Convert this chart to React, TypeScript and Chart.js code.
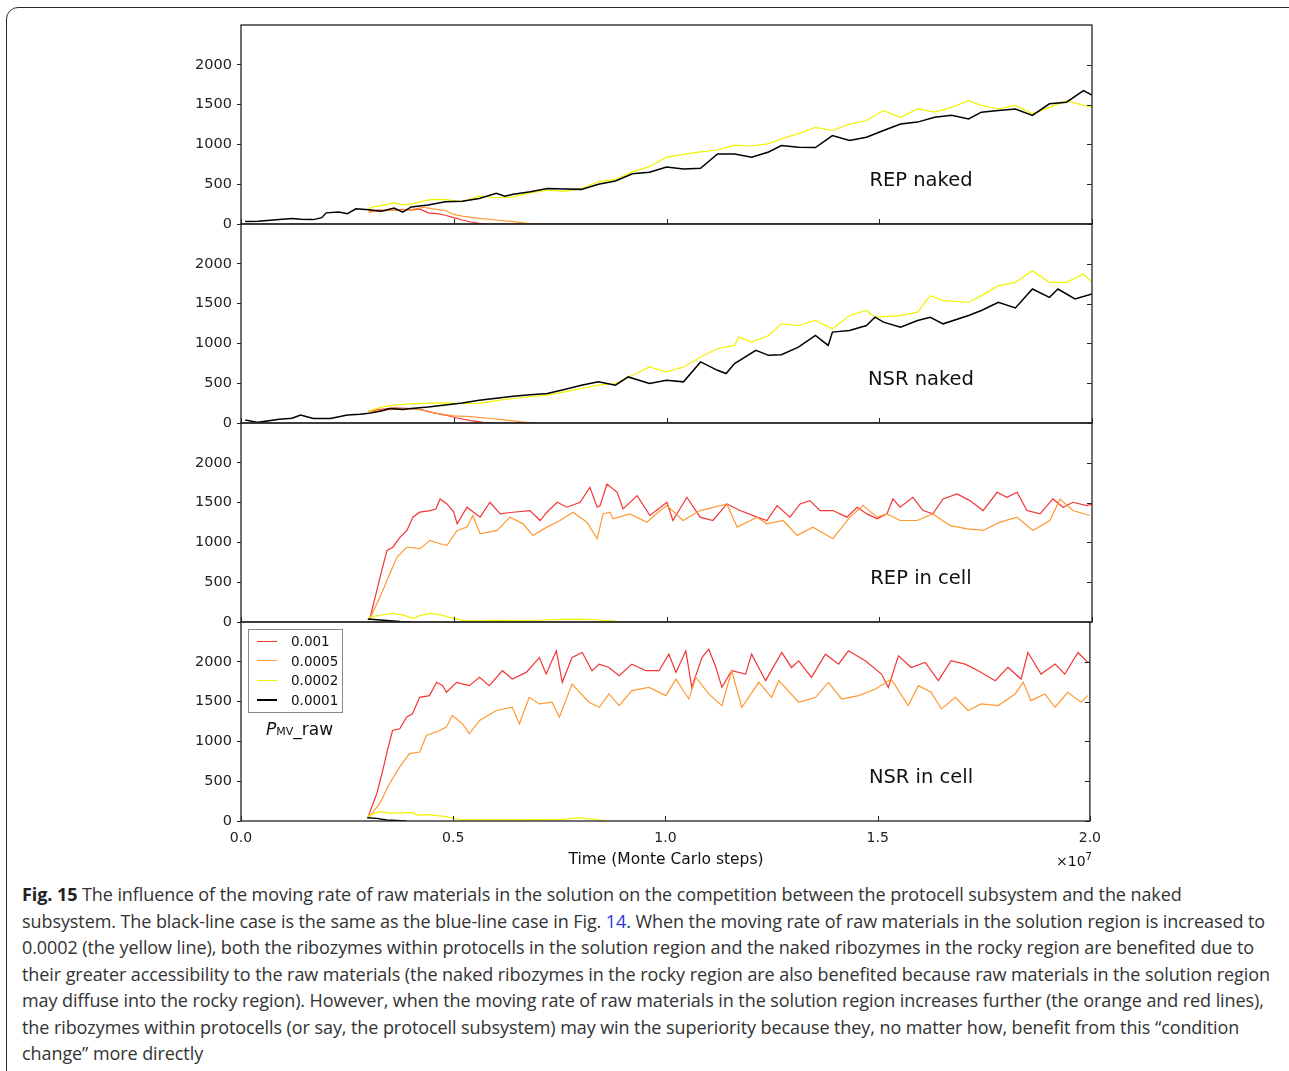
import React, { useEffect, useRef } from "react";
import { Chart, registerables } from "chart.js";

Chart.register(...registerables);

// ---------- axis ticks / labels ----------
const X_TICKS = [0, 0.5, 1.0, 1.5, 2.0]; // in units of 1e7 Monte Carlo steps
const Y_TICKS = [0, 500, 1000, 1500, 2000];
const LEGEND_LABELS = ["0.001", "0.0005", "0.0002", "0.0001"];
const PANEL_LABELS = ["REP naked", "NSR naked", "REP in cell", "NSR in cell"];

// ---------- Panel 1: REP naked ----------
const repNakedBlackT = [0.01, 0.04, 0.09, 0.12, 0.14, 0.17, 0.19, 0.2, 0.23, 0.25, 0.27, 0.3, 0.33, 0.36, 0.38, 0.4, 0.44, 0.48, 0.52, 0.56, 0.6, 0.62, 0.64, 0.68, 0.72, 0.76, 0.8, 0.84, 0.88, 0.92, 0.96, 1.0, 1.04, 1.08, 1.12, 1.16, 1.2, 1.24, 1.27, 1.31, 1.35, 1.39, 1.43, 1.47, 1.51, 1.55, 1.59, 1.63, 1.67, 1.71, 1.74, 1.78, 1.82, 1.86, 1.9, 1.94, 1.98, 2.0];
const repNakedBlackV = [30, 35, 55, 70, 60, 55, 80, 140, 150, 130, 190, 180, 160, 200, 150, 215, 240, 280, 285, 320, 385, 350, 375, 405, 445, 440, 435, 500, 540, 630, 650, 715, 690, 700, 880, 880, 840, 905, 985, 965, 960, 1110, 1050, 1090, 1175, 1255, 1280, 1340, 1365, 1320, 1405, 1425, 1445, 1365, 1510, 1530, 1675, 1620];
const repNakedYellowT = [0.3, 0.31, 0.33, 0.36, 0.38, 0.4, 0.43, 0.45, 0.48, 0.52, 0.56, 0.6, 0.64, 0.68, 0.72, 0.76, 0.8, 0.84, 0.88, 0.92, 0.96, 1.0, 1.04, 1.08, 1.12, 1.16, 1.2, 1.24, 1.27, 1.31, 1.35, 1.39, 1.43, 1.47, 1.51, 1.55, 1.59, 1.63, 1.67, 1.71, 1.74, 1.78, 1.82, 1.86, 1.9, 1.94, 1.98, 2.0];
const repNakedYellowV = [190, 215, 230, 265, 240, 250, 290, 310, 305, 280, 350, 330, 340, 390, 425, 410, 445, 530, 560, 655, 720, 840, 875, 905, 930, 990, 980, 1010, 1070, 1135, 1215, 1175, 1255, 1300, 1425, 1340, 1445, 1405, 1465, 1550, 1490, 1445, 1490, 1385, 1465, 1550, 1490, 1470];
const repNakedOrangeT = [0.3, 0.33, 0.36, 0.4, 0.43, 0.45, 0.48, 0.5, 0.52, 0.56, 0.6, 0.64, 0.67, 0.69, 2.0];
const repNakedOrangeV = [150, 165, 175, 180, 210, 190, 170, 120, 100, 70, 50, 30, 10, 0, 0];
const repNakedRedT = [0.3, 0.32, 0.35, 0.38, 0.4, 0.42, 0.44, 0.46, 0.48, 0.5, 0.52, 0.54, 0.56, 0.58, 2.0];
const repNakedRedV = [160, 175, 170, 185, 175, 190, 140, 130, 110, 80, 50, 25, 8, 0, 0];

// ---------- Panel 2: NSR naked ----------
const nsrNakedBlackT = [0.01, 0.04, 0.09, 0.12, 0.14, 0.17, 0.21, 0.25, 0.28, 0.3, 0.33, 0.35, 0.38, 0.4, 0.44, 0.48, 0.52, 0.56, 0.6, 0.64, 0.68, 0.72, 0.76, 0.8, 0.84, 0.88, 0.91, 0.96, 1.0, 1.04, 1.08, 1.12, 1.14, 1.16, 1.21, 1.24, 1.27, 1.31, 1.35, 1.38, 1.39, 1.43, 1.47, 1.49, 1.51, 1.55, 1.59, 1.62, 1.65, 1.71, 1.74, 1.78, 1.82, 1.86, 1.9, 1.92, 1.96, 2.0];
const nsrNakedBlackV = [37, 8, 46, 60, 100, 58, 58, 100, 110, 121, 150, 183, 170, 183, 200, 225, 250, 287, 310, 337, 355, 371, 420, 475, 517, 475, 579, 496, 537, 517, 767, 662, 621, 746, 912, 850, 858, 954, 1100, 975, 1142, 1163, 1225, 1329, 1267, 1204, 1288, 1329, 1246, 1350, 1413, 1517, 1446, 1683, 1579, 1683, 1558, 1621];
const nsrNakedYellowT = [0.3, 0.33, 0.36, 0.4, 0.44, 0.48, 0.52, 0.56, 0.6, 0.64, 0.68, 0.72, 0.76, 0.8, 0.84, 0.88, 0.92, 0.96, 1.0, 1.04, 1.08, 1.12, 1.16, 1.17, 1.2, 1.24, 1.27, 1.31, 1.35, 1.39, 1.43, 1.47, 1.49, 1.55, 1.59, 1.62, 1.65, 1.71, 1.74, 1.78, 1.82, 1.86, 1.9, 1.94, 1.98, 2.0];
const nsrNakedYellowV = [150, 200, 225, 240, 250, 254, 245, 246, 280, 308, 330, 350, 390, 433, 475, 496, 600, 704, 642, 704, 829, 933, 975, 1079, 1017, 1100, 1246, 1225, 1288, 1183, 1350, 1413, 1329, 1350, 1392, 1600, 1538, 1517, 1600, 1725, 1767, 1913, 1767, 1767, 1871, 1767];
const nsrNakedOrangeT = [0.3, 0.33, 0.36, 0.4, 0.43, 0.46, 0.5, 0.54, 0.58, 0.62, 0.66, 0.69, 2.0];
const nsrNakedOrangeV = [140, 160, 170, 180, 160, 120, 90, 80, 60, 40, 15, 0, 0];
const nsrNakedRedT = [0.3, 0.33, 0.36, 0.4, 0.42, 0.45, 0.48, 0.51, 0.54, 0.57, 0.59, 2.0];
const nsrNakedRedV = [150, 170, 190, 180, 170, 130, 100, 60, 30, 8, 0, 0];

// ---------- Panel 3: REP in cell ----------
const repCellRedT = [0.3, 0.303, 0.327, 0.343, 0.357, 0.374, 0.39, 0.404, 0.42, 0.444, 0.458, 0.468, 0.484, 0.5, 0.508, 0.531, 0.562, 0.585, 0.609, 0.639, 0.679, 0.703, 0.719, 0.743, 0.766, 0.797, 0.82, 0.837, 0.844, 0.86, 0.884, 0.898, 0.931, 0.961, 1.001, 1.015, 1.048, 1.079, 1.109, 1.142, 1.173, 1.213, 1.236, 1.26, 1.29, 1.314, 1.337, 1.361, 1.391, 1.424, 1.448, 1.471, 1.495, 1.518, 1.532, 1.549, 1.579, 1.603, 1.626, 1.65, 1.683, 1.713, 1.744, 1.777, 1.8, 1.824, 1.847, 1.878, 1.908, 1.932, 1.955, 1.988, 2.0];
const repCellRedV = [30, 46, 567, 900, 940, 1067, 1150, 1317, 1380, 1400, 1420, 1546, 1483, 1380, 1233, 1442, 1317, 1504, 1358, 1379, 1400, 1275, 1379, 1504, 1442, 1504, 1692, 1442, 1463, 1733, 1629, 1421, 1588, 1338, 1504, 1275, 1567, 1317, 1275, 1483, 1400, 1317, 1275, 1463, 1317, 1483, 1525, 1400, 1400, 1317, 1442, 1358, 1296, 1358, 1546, 1442, 1567, 1400, 1358, 1546, 1608, 1525, 1400, 1629, 1567, 1629, 1400, 1358, 1546, 1442, 1504, 1463, 1480];
const repCellOrangeT = [0.3, 0.303, 0.327, 0.35, 0.367, 0.39, 0.421, 0.444, 0.468, 0.484, 0.508, 0.531, 0.545, 0.562, 0.602, 0.632, 0.663, 0.686, 0.719, 0.75, 0.78, 0.813, 0.837, 0.851, 0.867, 0.874, 0.914, 0.954, 0.985, 1.001, 1.039, 1.079, 1.142, 1.166, 1.213, 1.236, 1.274, 1.307, 1.344, 1.391, 1.431, 1.462, 1.495, 1.518, 1.549, 1.589, 1.626, 1.666, 1.706, 1.744, 1.784, 1.824, 1.861, 1.901, 1.925, 1.955, 1.995];
const repCellOrangeV = [30, 46, 317, 608, 817, 942, 921, 1025, 983, 962, 1150, 1192, 1338, 1108, 1150, 1317, 1233, 1088, 1192, 1275, 1379, 1254, 1046, 1358, 1379, 1296, 1358, 1254, 1400, 1463, 1275, 1400, 1483, 1192, 1317, 1233, 1275, 1088, 1192, 1046, 1317, 1463, 1317, 1358, 1275, 1275, 1358, 1213, 1171, 1150, 1254, 1317, 1150, 1275, 1546, 1400, 1338];
const repCellYellowT = [0.3, 0.31, 0.33, 0.357, 0.38, 0.404, 0.42, 0.444, 0.47, 0.484, 0.5, 0.522, 0.56, 0.6, 0.64, 0.7, 0.757, 0.8, 0.837, 0.874, 0.884];
const repCellYellowV = [50, 67, 88, 108, 90, 46, 80, 108, 90, 67, 45, 20, 15, 20, 18, 22, 33, 35, 25, 15, 0];
const repCellBlackT = [0.298, 0.327, 0.35, 0.374, 0.4];
const repCellBlackV = [37, 25, 17, 5, 0];

// ---------- Panel 4: NSR in cell ----------
const nsrCellRedT = [0.298, 0.32, 0.334, 0.345, 0.357, 0.374, 0.39, 0.404, 0.421, 0.444, 0.461, 0.475, 0.484, 0.508, 0.538, 0.562, 0.585, 0.616, 0.639, 0.672, 0.703, 0.719, 0.743, 0.757, 0.78, 0.804, 0.827, 0.844, 0.867, 0.891, 0.921, 0.954, 0.985, 1.008, 1.025, 1.048, 1.062, 1.086, 1.102, 1.119, 1.133, 1.156, 1.189, 1.203, 1.236, 1.274, 1.297, 1.314, 1.344, 1.377, 1.408, 1.431, 1.471, 1.509, 1.525, 1.549, 1.579, 1.612, 1.643, 1.673, 1.706, 1.737, 1.777, 1.807, 1.838, 1.854, 1.885, 1.918, 1.941, 1.972, 1.995, 2.0];
const nsrCellRedV = [33, 346, 637, 887, 1137, 1158, 1304, 1346, 1554, 1575, 1742, 1700, 1617, 1742, 1700, 1804, 1700, 1888, 1783, 1867, 2054, 1846, 2138, 1742, 2054, 2117, 1888, 1971, 1929, 1825, 1971, 1888, 1888, 2096, 1867, 2138, 1679, 2054, 2158, 1929, 1679, 1888, 1846, 2096, 1763, 2117, 1929, 2013, 1804, 2096, 1971, 2138, 2013, 1846, 1679, 2075, 1929, 1992, 1763, 2013, 1971, 1888, 1763, 1929, 1783, 2117, 1846, 1971, 1846, 2117, 1992, 2000];
const nsrCellOrangeT = [0.303, 0.327, 0.35, 0.374, 0.397, 0.421, 0.437, 0.468, 0.484, 0.498, 0.522, 0.538, 0.562, 0.602, 0.639, 0.656, 0.679, 0.703, 0.733, 0.75, 0.78, 0.82, 0.844, 0.867, 0.891, 0.921, 0.961, 1.001, 1.025, 1.055, 1.072, 1.102, 1.133, 1.156, 1.18, 1.22, 1.25, 1.267, 1.314, 1.354, 1.384, 1.415, 1.455, 1.495, 1.532, 1.572, 1.596, 1.626, 1.65, 1.683, 1.713, 1.744, 1.784, 1.824, 1.843, 1.861, 1.894, 1.918, 1.948, 1.979, 1.995];
const nsrCellOrangeV = [54, 221, 471, 679, 846, 867, 1075, 1137, 1179, 1325, 1221, 1096, 1263, 1388, 1429, 1221, 1554, 1471, 1492, 1304, 1721, 1492, 1429, 1596, 1450, 1638, 1679, 1575, 1783, 1533, 1804, 1596, 1450, 1888, 1429, 1742, 1554, 1763, 1492, 1554, 1742, 1533, 1575, 1658, 1783, 1450, 1700, 1617, 1408, 1554, 1388, 1471, 1450, 1596, 1742, 1513, 1596, 1429, 1617, 1492, 1575];
const nsrCellYellowT = [0.298, 0.303, 0.327, 0.35, 0.367, 0.404, 0.414, 0.44, 0.484, 0.52, 0.56, 0.62, 0.7, 0.76, 0.797, 0.81, 0.827, 0.86];
const nsrCellYellowV = [50, 75, 117, 100, 100, 108, 75, 80, 54, 13, 15, 13, 18, 20, 42, 30, 25, 0];
const nsrCellBlackT = [0.298, 0.32, 0.343, 0.39];
const nsrCellBlackV = [42, 33, 13, 0];

// ---------- styles ----------
const RED = "#f23535";
const ORANGE = "#ff9933";
const YELLOW = "#f2f200";
const BLACK = "#000000";
const LEGEND_COLORS = [RED, ORANGE, YELLOW, BLACK];

const CAPTION_LINES = [
  "The influence of the moving rate of raw materials in the solution on the competition between the protocell subsystem and the naked",
  "subsystem. The black-line case is the same as the blue-line case in Fig. ",
  "0.0002 (the yellow line), both the ribozymes within protocells in the solution region and the naked ribozymes in the rocky region are benefited due to",
  "their greater accessibility to the raw materials (the naked ribozymes in the rocky region are also benefited because raw materials in the solution region",
  "may diffuse into the rocky region). However, when the moving rate of raw materials in the solution region increases further (the orange and red lines),",
  "the ribozymes within protocells (or say, the protocell subsystem) may win the superiority because they, no matter how, benefit from this \u201ccondition",
  "change\u201d more directly",
];
const CAPTION_LINE2_TAIL = ". When the moving rate of raw materials in the solution region is increased to";

type Series = { t: number[]; v: number[]; color: string; width: number };

const PANELS: { zeroY: number; series: Series[] }[] = [
  {
    zeroY: 224,
    series: [
      { t: repNakedBlackT, v: repNakedBlackV, color: BLACK, width: 1.5 },
      { t: repNakedYellowT, v: repNakedYellowV, color: YELLOW, width: 1.2 },
      { t: repNakedOrangeT, v: repNakedOrangeV, color: ORANGE, width: 1.2 },
      { t: repNakedRedT, v: repNakedRedV, color: RED, width: 1.2 },
    ],
  },
  {
    zeroY: 423,
    series: [
      { t: nsrNakedBlackT, v: nsrNakedBlackV, color: BLACK, width: 1.5 },
      { t: nsrNakedYellowT, v: nsrNakedYellowV, color: YELLOW, width: 1.2 },
      { t: nsrNakedOrangeT, v: nsrNakedOrangeV, color: ORANGE, width: 1.2 },
      { t: nsrNakedRedT, v: nsrNakedRedV, color: RED, width: 1.2 },
    ],
  },
  {
    zeroY: 622,
    series: [
      { t: repCellBlackT, v: repCellBlackV, color: BLACK, width: 1.5 },
      { t: repCellYellowT, v: repCellYellowV, color: YELLOW, width: 1.2 },
      { t: repCellOrangeT, v: repCellOrangeV, color: ORANGE, width: 1.2 },
      { t: repCellRedT, v: repCellRedV, color: RED, width: 1.2 },
    ],
  },
  {
    zeroY: 821,
    series: [
      { t: nsrCellBlackT, v: nsrCellBlackV, color: BLACK, width: 1.5 },
      { t: nsrCellYellowT, v: nsrCellYellowV, color: YELLOW, width: 1.2 },
      { t: nsrCellOrangeT, v: nsrCellOrangeV, color: ORANGE, width: 1.2 },
      { t: nsrCellRedT, v: nsrCellRedV, color: RED, width: 1.2 },
    ],
  },
];

const PANEL_H = 199;
const CANVAS_LEFT = 170;
const CANVAS_W = 940;
const PAD_TOP = 15;
const AXIS_FONT = "'DejaVu Sans', 'Bitstream Vera Sans', sans-serif";

const framePlugin = {
  id: "frameTicks",
  afterDraw(chart: any) {
    const { ctx, chartArea, scales } = chart;
    const { left, right, top, bottom } = chartArea;
    ctx.save();
    ctx.strokeStyle = "#222";
    ctx.lineWidth = 1;
    ctx.beginPath();
    for (const v of Y_TICKS) {
      const py = Math.round(scales.y.getPixelForValue(v)) + 0.5;
      ctx.moveTo(right, py);
      ctx.lineTo(right - 5, py);
    }
    for (const v of X_TICKS) {
      const px = Math.round(scales.x.getPixelForValue(v)) + 0.5;
      ctx.moveTo(px, bottom);
      ctx.lineTo(px, bottom - 5);
    }
    ctx.stroke();
    ctx.lineWidth = 1.3;
    ctx.strokeRect(left, top, right - left, bottom - top);
    ctx.restore();
  },
};

function Panel({ index }: { index: number }) {
  const ref = useRef<HTMLCanvasElement>(null);
  const panel = PANELS[index];
  const showX = index === 3;
  const height = PAD_TOP + PANEL_H + (showX ? 40 : 15);

  useEffect(() => {
    if (!ref.current) return;
    const chart = new Chart(ref.current, {
      type: "line",
      data: {
        datasets: panel.series.map((s) => ({
          data: s.t.map((t, i) => ({ x: t, y: s.v[i] })),
          borderColor: s.color,
          borderWidth: s.width,
          pointRadius: 0,
          tension: 0,
          fill: false,
        })),
      },
      options: {
        animation: false,
        responsive: false,
        maintainAspectRatio: false,
        events: [],
        layout: { padding: { top: PAD_TOP, right: 18, bottom: showX ? 0 : 15, left: 0 } },
        plugins: { legend: { display: false }, tooltip: { enabled: false } },
        scales: {
          x: {
            type: "linear",
            min: 0,
            max: 2,
            display: showX,
            afterBuildTicks: (axis: any) => {
              axis.ticks = X_TICKS.map((v) => ({ value: v }));
            },
            afterFit: (scale: any) => {
              scale.height = showX ? 40 : 0;
            },
            grid: { display: false, drawTicks: false },
            border: { display: false },
            ticks: {
              callback: (v: any) => Number(v).toFixed(1),
              font: { family: AXIS_FONT, size: 14 },
              color: "#222",
              padding: 9,
              maxRotation: 0,
              autoSkip: false,
            },
          },
          y: {
            type: "linear",
            min: 0,
            max: 2500,
            afterBuildTicks: (axis: any) => {
              axis.ticks = Y_TICKS.map((v) => ({ value: v }));
            },
            afterFit: (scale: any) => {
              scale.width = 71;
            },
            grid: { drawOnChartArea: false, drawTicks: true, tickLength: 4, color: "#222", lineWidth: 1 },
            border: { display: false },
            ticks: {
              callback: (v: any) => String(v),
              font: { family: AXIS_FONT, size: 14.5 },
              color: "#222",
              padding: 5,
              autoSkip: false,
            },
          },
        },
      } as any,
      plugins: [framePlugin],
    });
    return () => chart.destroy();
  }, []);

  return (
    <canvas
      ref={ref}
      width={CANVAS_W}
      height={height}
      style={{ position: "absolute", left: CANVAS_LEFT, top: panel.zeroY - PANEL_H - PAD_TOP, width: CANVAS_W, height }}
    />
  );
}

export default function App() {
  const captionFont = "'Open Sans', 'Noto Sans', sans-serif";
  return (
    <div
      style={{
        position: "fixed",
        left: 0,
        top: 0,
        width: 1289,
        height: 1071,
        overflow: "hidden",
        background: "#fff",
        fontFamily: AXIS_FONT,
      }}
    >
      <div
        style={{
          position: "absolute",
          left: 6,
          top: 7,
          width: 1300,
          height: 1100,
          border: "1.6px solid #2a2a2a",
          borderRadius: 12,
          boxSizing: "border-box",
        }}
      />
      {PANELS.map((_, i) => (
        <Panel key={i} index={i} />
      ))}
      {PANELS.map((p, i) => (
        <div
          key={"lbl" + i}
          style={{
            position: "absolute",
            left: 821,
            width: 200,
            textAlign: "center",
            top: p.zeroY - 38 - 16.5,
            fontSize: 19.5,
            lineHeight: "19.5px",
            color: "#111",
            whiteSpace: "nowrap",
          }}
        >
          {PANEL_LABELS[i]}
        </div>
      ))}
      {/* legend */}
      <div
        style={{
          position: "absolute",
          left: 248,
          top: 629,
          width: 95,
          height: 84,
          border: "1px solid #8a8a8a",
          boxSizing: "border-box",
          background: "#fff",
        }}
      />
      {LEGEND_LABELS.map((lab, i) => (
        <React.Fragment key={"leg" + i}>
          <div
            style={{
              position: "absolute",
              left: 257,
              top: 641 + i * 19.7 - (i === 3 ? 0.75 : 0.5),
              width: 20,
              height: i === 3 ? 1.5 : 1,
              background: LEGEND_COLORS[i],
            }}
          />
          <div
            style={{
              position: "absolute",
              left: 291,
              top: 641 + i * 19.7 - 8,
              fontSize: 13.5,
              lineHeight: "16px",
              color: "#111",
              whiteSpace: "nowrap",
            }}
          >
            {lab}
          </div>
        </React.Fragment>
      ))}
      <div
        style={{
          position: "absolute",
          left: 266,
          top: 719,
          fontSize: 17,
          lineHeight: "20px",
          color: "#111",
          whiteSpace: "nowrap",
        }}
      >
        <span style={{ fontStyle: "italic" }}>P</span>
        <span style={{ fontSize: 11 }}>MV</span>
        <span>_raw</span>
      </div>
      {/* x axis title and offset */}
      <div
        style={{
          position: "absolute",
          left: 466,
          width: 400,
          textAlign: "center",
          top: 850,
          fontSize: 15.5,
          lineHeight: "18px",
          color: "#111",
          whiteSpace: "nowrap",
        }}
      >
        Time (Monte Carlo steps)
      </div>
      <div
        style={{
          position: "absolute",
          left: 1056,
          top: 848,
          fontSize: 14,
          lineHeight: "18px",
          color: "#111",
          whiteSpace: "nowrap",
        }}
      >
        ×10<sup style={{ fontSize: 10, verticalAlign: 6 }}>7</sup>
      </div>
      {/* caption */}
      <div
        style={{
          position: "absolute",
          left: 22,
          top: 881,
          fontFamily: captionFont,
          fontSize: 18,
          lineHeight: "26.5px",
          color: "#333",
          letterSpacing: -0.08,
          whiteSpace: "nowrap",
        }}
      >
        <div>
          <b style={{ color: "#222" }}>Fig. 15</b> {CAPTION_LINES[0]}
        </div>
        <div>
          {CAPTION_LINES[1]}
          <span style={{ color: "#2a3bd4" }}>14</span>
          {CAPTION_LINE2_TAIL}
        </div>
        {CAPTION_LINES.slice(2).map((l, i) => (
          <div key={i}>{l}</div>
        ))}
      </div>
    </div>
  );
}
